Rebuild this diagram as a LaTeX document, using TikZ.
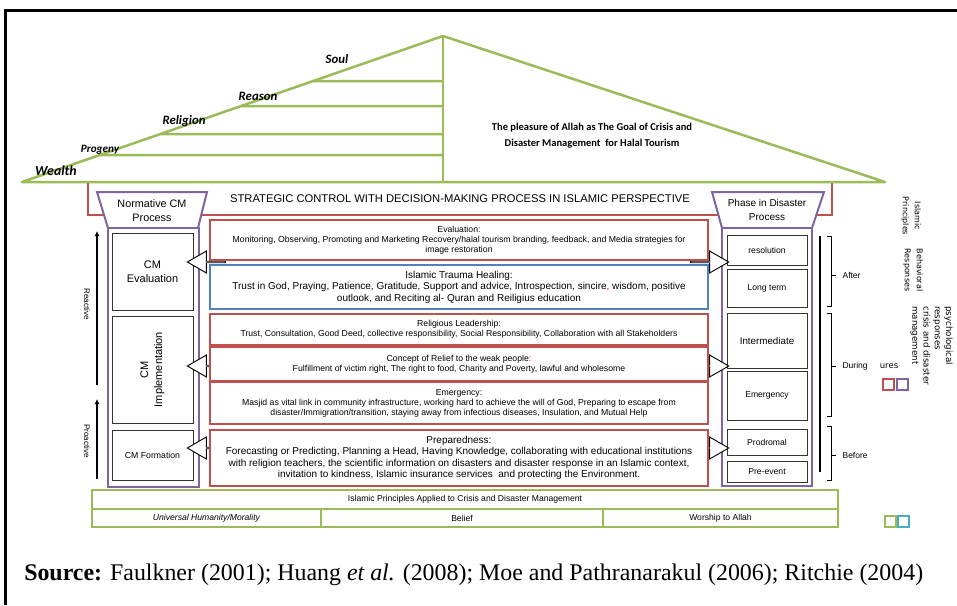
\documentclass[tikz,border=0pt]{standalone}
\usepackage{fontspec}
\setmainfont{Liberation Serif}
\setsansfont{Liberation Sans}
\newfontfamily\calibri{Carlito}
\newfontfamily\verdana{DejaVu Sans}
\usepackage{tikz}
\usetikzlibrary{shapes.arrows,arrows.meta}
\definecolor{cmred}{HTML}{C0504D}
\definecolor{cmpurple}{HTML}{8064A2}
\definecolor{cmblue}{HTML}{4F81BD}
\definecolor{cmgreen}{HTML}{9BBB59}
\definecolor{cmcyan}{HTML}{4BACC6}

\begin{document}
\begin{tikzpicture}[x=1pt, y=-1pt, line width=.5pt,
    roof/.style={draw=cmgreen, line width=2.5pt, line join=round},
    rooflabel/.style={font=\calibri\bfseries\itshape\fontsize{12.8}{14}\selectfont},
    redbox/.style={draw=cmred, line width=2pt, fill=white, minimum width=498, inner sep=0pt, align=center, font=\sffamily\fontsize{8.7}{10}\selectfont},
    bluebox/.style={redbox, draw=cmblue},
    bigtext/.style={font=\sffamily\fontsize{10}{11.5}\selectfont},
    colline/.style={draw=cmpurple, line width=2pt, fill=white},
    stagebox/.style={draw=black!80, line width=.9pt, minimum width=81, inner sep=0pt, align=center, font=\sffamily\fontsize{11}{13.5}\selectfont},
    phasebox/.style={draw=black!80, line width=.9pt, minimum width=80, inner sep=0pt, font=\sffamily\fontsize{8.6}{10}\selectfont},
    barrow/.style={single arrow, draw=black, line width=.9pt, fill=white, minimum height=38, minimum width=22, single arrow head extend=6pt, single arrow tip angle=60, inner sep=0pt},
    flow/.style={line width=2.5pt, -{Latex[length=5pt,width=5pt]}},
    sidelabel/.style={font=\sffamily\fontsize{8.5}{10}\selectfont},
    greenbox/.style={draw=cmgreen, line width=2pt, inner sep=0pt, font=\sffamily\fontsize{8.6}{10}\selectfont}]
    \useasboundingbox (0,0) rectangle (957,605);
    \draw[line width=3pt] (5.5,605) -- (5.5,10) -- (957,10);

    \node[draw=cmred, line width=2pt, minimum width=744, minimum height=33, inner sep=0pt, font=\sffamily\fontsize{11.2}{13}\selectfont] (strat) at (460,198.5) {STRATEGIC CONTROL WITH DECISION-MAKING PROCESS IN ISLAMIC PERSPECTIVE};

    % roof
    \coordinate (eaveL) at (22,182);
    \coordinate (apex) at (443,36);
    \coordinate (eaveR) at (885,182);
    \draw[roof] (eaveL) -- (apex) -- (eaveR) -- cycle;
    \draw[roof] (apex) -- (443,182);
    \foreach \fy in {81,106,134,155}
        \draw[roof] (intersection of eaveL--apex and 0,\fy--443,\fy) -- (443,\fy);
    \node[rooflabel] (soul) at (337,59) {Soul};
    \node[rooflabel] (reason) at (258,96) {Reason};
    \node[rooflabel] (religion) at (184,121) {Religion};
    \node[rooflabel, font=\calibri\bfseries\itshape\fontsize{11.2}{13}\selectfont] (progeny) at (100,150) {Progeny};
    \node[rooflabel, font=\calibri\bfseries\itshape\fontsize{13.8}{15}\selectfont] (wealth) at (56,171) {Wealth};
    \node[align=center, font=\calibri\bfseries\fontsize{10.5}{16}\selectfont] (goal) at (592,136) {The pleasure of Allah as The Goal of Crisis and\\Disaster Management\ \ for Halal Tourism};

    % columns
    \draw[colline] (97,192) -- (207,192) -- (198,228) -- (108,228) -- cycle;
    \draw[colline] (712,192) -- (824,192) -- (812,228) -- (722,228) -- cycle;
    \node[align=center, font=\sffamily\fontsize{10.8}{14}\selectfont] (normhd) at (152,211) {Normative CM\\Process};
    \node[align=center, font=\sffamily\fontsize{10}{13.5}\selectfont] (phasehd) at (767,210) {Phase in Disaster\\Process};
    \draw[colline] (108,228) rectangle (199,487);
    \draw[colline] (722,228) rectangle (812,486);

    \node[stagebox, minimum height=77] (cmeval) at (152.5,271.5) {CM\\Evaluation};
    \node[stagebox, minimum height=107] (cmimpl) at (152.5,369.5) {};
    \node[rotate=90, align=center, font=\sffamily\fontsize{11}{14}\selectfont] at (cmimpl) {CM\\Implementation};
    \node[stagebox, minimum height=50, font=\sffamily\fontsize{8.7}{10}\selectfont] (cmform) at (152.5,455) {CM Formation};

    \node[phasebox, minimum height=30] (resol) at (767,250) {resolution};
    \node[phasebox, minimum height=38] (longterm) at (767,288) {Long term};
    \node[phasebox, minimum height=55, font=\sffamily\fontsize{9.8}{12}\selectfont] (interm) at (767,340.5) {Intermediate};
    \node[phasebox, minimum height=49] (emergph) at (767,395.5) {Emergency};
    \node[phasebox, minimum height=26] (prodrom) at (767,442) {Prodromal};
    \node[phasebox, minimum height=21] (preevent) at (767,471.5) {Pre-event};

    % block arrows
    \foreach \ay [count=\i] in {262,366,448} {
        \node[barrow, shape border rotate=180] (larr\i) at (207,\ay) {};
        \node[barrow] (rarr\i) at (709,\ay) {};
    }

    % middle boxes
    \node[redbox, minimum height=40] (evalbox) at (459,240) {Evaluation:\\Monitoring, Observing, Promoting and Marketing Recovery/halal tourism branding, feedback, and Media strategies for\\image restoration};
    \node[bluebox, bigtext, minimum height=44] (trauma) at (459,287) {Islamic Trauma Healing:\\Trust in God, Praying, Patience, Gratitude, Support and advice, Introspection, sincire{\color{red},} wisdom, positive\\outlook, and Reciting al- Quran and Reiligius education};
    \node[redbox, minimum height=31] (religlead) at (459,329.5) {Religious Leadership:\\Trust, Consultation, Good Deed, collective responsibility, Social Responsibility, Collaboration with all Stakeholders};
    \node[redbox, minimum height=34] (relief) at (459,364) {Concept of Relief to the weak people{\color{red}:}\\Fulfillment of victim right, The right to food, Charity and Poverty, lawful and wholesome};
    \node[redbox, minimum height=42] (emerg) at (459,403) {Emergency:\\Masjid as vital link in community infrastructure, working hard to achieve the will of God, Preparing to escape from\\disaster/Immigration/transition, staying away from infectious diseases, Insulation, and Mutual Help};
    \node[redbox, bigtext, minimum height=56] (prep) at (459,458) {Preparedness:\\Forecasting or Predicting, Planning a Head, Having Knowledge, collaborating with educational institutions\\with religion teachers, the scientific information on disasters and disaster response in an Islamic context,\\invitation to kindness, Islamic insurance services\ \ and protecting the Environment.};

    % reactive / proactive
    \coordinate (reactS) at (97,385);
    \coordinate (reactE) at (97,231);
    \coordinate (proS) at (97,479);
    \coordinate (proE) at (97,399);
    \draw[flow] (reactS) -- (reactE);
    \draw[flow] (proS) -- (proE);
    \node[rotate=-90, font=\sffamily\fontsize{8}{10}\selectfont] (reactive) at (87,304) {Reactive};
    \node[rotate=-90, font=\sffamily\fontsize{8}{10}\selectfont] (proactive) at (87,441) {Proactive};

    % phases
    \coordinate (phaseT) at (820,236);
    \coordinate (phaseB) at (820,472);
    \draw[line width=2.5pt] (phaseT) -- (phaseB);
    \foreach \bt/\bb/\bm/\bname in {236/306/275/After, 313/416/366/During, 426/480/455/Before} {
        \draw (827,\bt) -- (831,\bt) -- (831,\bb) -- (827,\bb);
        \draw (831,\bm) -- (836,\bm);
        \node[sidelabel, anchor=west] (ph\bname) at (839,\bm) {\bname};
    }

    % side notes
    \node[rotate=-90, align=center, font=\verdana\fontsize{8}{12}\selectfont] (islprin) at (911,216) {Islamic\\Principles};
    \node[rotate=-90, align=center, font=\verdana\fontsize{8}{12}\selectfont] (behres) at (913,270) {Behavioral\\Responses};
    \node[rotate=-90, align=left, anchor=north west, inner sep=0pt, font=\verdana\fontsize{8.7}{11.3}\selectfont] (psyres) at (953,306) {psychological\\responses\\crisis and disaster\\management};
    \node[font=\verdana\fontsize{8.5}{10}\selectfont] (ures) at (889,366) {ures};
    \draw[draw=cmred, line width=2pt] (883,379) rectangle (894,390);
    \draw[draw=cmpurple, line width=2pt] (897,379) rectangle (908,390);
    \draw[draw=cmgreen, line width=2pt] (885,516) rectangle (896,527);
    \draw[draw=cmcyan, line width=2pt] (898,516) rectangle (909,527);

    % base
    \node[greenbox, minimum width=746, minimum height=19] (iplab) at (465,499.5) {Islamic Principles Applied to Crisis and Disaster Management};
    \node[greenbox, minimum width=229, minimum height=18, font=\sffamily\itshape\fontsize{8.6}{10}\selectfont] (humanity) at (206.5,518) {Universal Humanity/Morality};
    \node[greenbox, minimum width=282, minimum height=18] (belief) at (462,518) {Belief};
    \node[greenbox, minimum width=235, minimum height=18] (worship) at (720.5,518) {Worship to Allah};

    \node[anchor=base west, inner sep=0pt, font=\fontsize{23.9}{28}\selectfont] (source) at (24,580) {\textbf{Source:} Faulkner (2001); Huang \textit{et al.} (2008); Moe and Pathranarakul (2006); Ritchie (2004)};
\end{tikzpicture}
\end{document}
